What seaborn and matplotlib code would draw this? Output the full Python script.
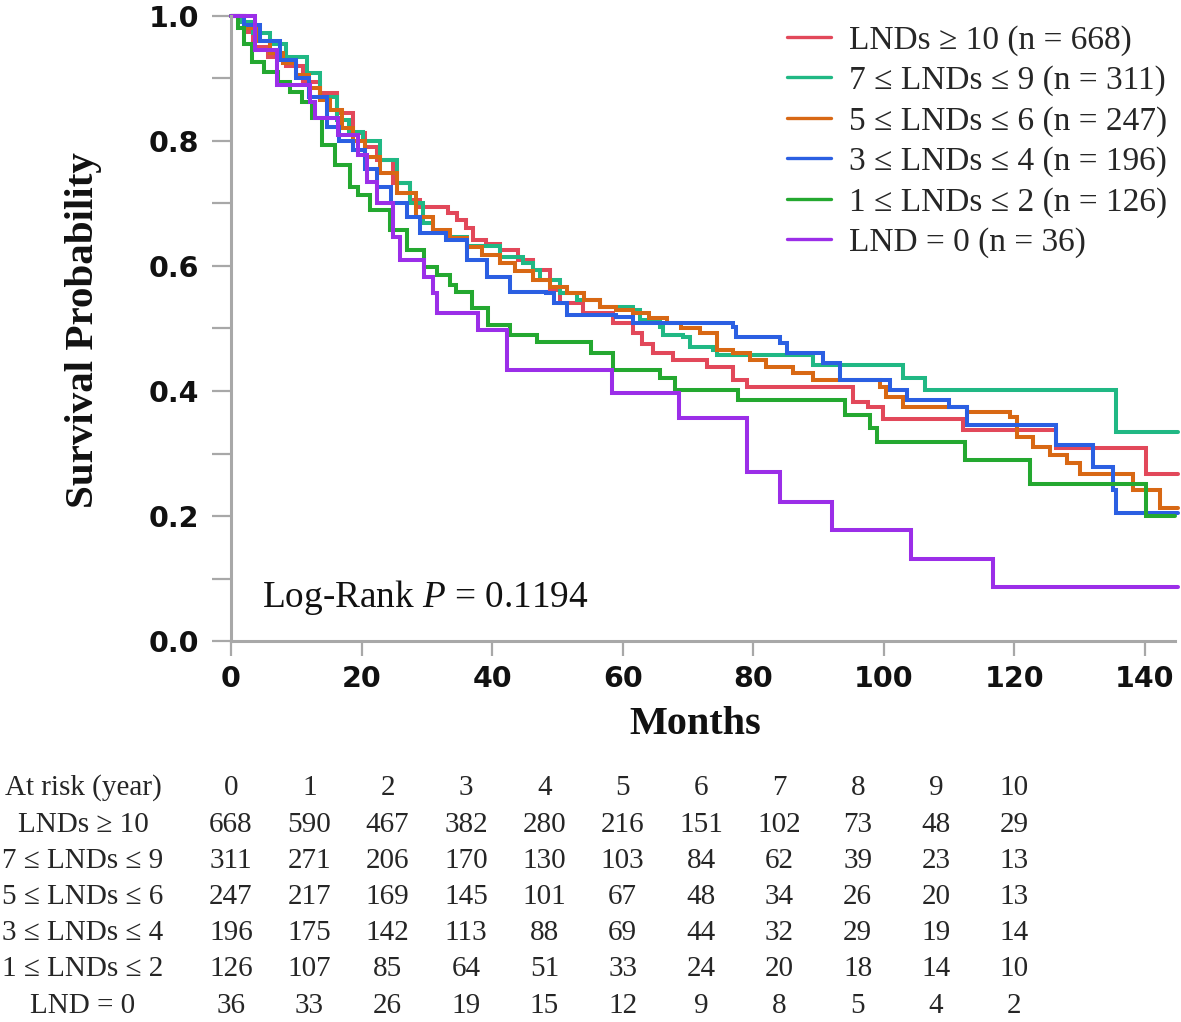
import numpy as np
import pandas as pd
import matplotlib
matplotlib.use("Agg")
import matplotlib.pyplot as plt
import seaborn as sns
from matplotlib import transforms
from matplotlib.lines import Line2D

# ---------------- data ----------------
group_labels = ["LNDs \u2265 10 (n = 668)", "7 \u2264 LNDs \u2264 9 (n = 311)",
                "5 \u2264 LNDs \u2264 6 (n = 247)", "3 \u2264 LNDs \u2264 4 (n = 196)",
                "1 \u2264 LNDs \u2264 2 (n = 126)", "LND = 0 (n = 36)"]
group_colors = ["#e2485a", "#20b884", "#d86814", "#2b5fe2", "#24a830", "#9b2ee8"]

red_t = [0, 2, 3.4, 5.7, 8.5, 11, 13.6, 16.2, 18.7, 20.5, 22.3, 24.8, 27.4, 28.9, 33.2, 34.6, 36, 37.1, 39, 41.2,
         44, 46.3, 48.9, 50.4, 53.9, 58.5, 61.6, 63, 64.6, 67.7, 72.9, 76.9, 79, 95.3, 97.6, 99.9, 112.2, 126.4, 140.2, 145]
red_s = [1, .975, .95, .935, .92, .895, .876, .845, .813, .79, .77, .733, .706, .695, .685, .674, .66, .642, .635, .626,
         .61, .594, .562, .541, .524, .508, .492, .475, .46, .45, .439, .418, .407, .383, .374, .355, .338, .309, .268, .268]

teal_t = [0, 1.5, 3.4, 6, 8.5, 11.6, 13.6, 16.2, 18, 20.2, 22.8, 25.4, 27.4, 29.4, 31, 33, 36.1, 41.2, 44.7, 46.3,
          47.3, 50.4, 53, 56.5, 61.6, 62.6, 65.7, 66.2, 69.3, 70.3, 73.8, 74.4, 89.2, 102.9, 106.3, 135.6, 145]
teal_s = [1, .99, .973, .955, .935, .909, .871, .834, .815, .80, .77, .733, .70, .668, .655, .647, .632, .614, .605, .594,
          .578, .557, .546, .535, .53, .514, .503, .49, .486, .471, .466, .458, .442, .42, .402, .335, .335]

orange_t = [0, 2, 4, 6, 8, 10, 12, 13.6, 15.2, 17, 18.7, 20.5, 22.8, 25.4, 28.4, 31, 33.5, 36.1, 38.5, 41.2,
            43.5, 46.3, 48.8, 51.4, 54, 56.5, 59, 61.6, 64, 66.8, 69, 71.8, 74.4, 76.9, 79.5, 82, 86.1, 89.2, 99.4, 100.4,
            102.9, 112.7, 119.3, 120.4, 122.9, 125.4, 128, 130, 138.2, 142.3, 145]
orange_s = [1, .98, .96, .94, .925, .905, .885, .865, .85, .82, .80, .775, .749, .717, .679, .658, .645, .631, .618, .605,
            .592, .578, .567, .557, .546, .535, .53, .524, .516, .508, .50, .492, .466, .46, .45, .439, .428, .418, .407, .391,
            .375, .367, .359, .327, .311, .298, .285, .268, .242, .213, .213]

blue_t = [0, 2, 4.4, 7.5, 10, 12, 14.7, 16.5, 18.7, 20.5, 22.3, 24.5, 26.9, 28.9, 33, 36.1, 39.2, 42.7, 48.3, 49.5,
          51.4, 59, 61.6, 76.9, 77.4, 84.1, 85.1, 90.7, 93.3, 100.9, 103.5, 110, 112.7, 126.4, 132, 135.1, 135.6, 145]
blue_s = [1, .985, .96, .93, .90, .87, .823, .80, .786, .755, .727, .70, .679, .652, .642, .61, .583, .559, .557, .54,
          .522, .519, .508, .503, .487, .477, .46, .444, .418, .402, .386, .375, .345, .314, .279, .242, .205, .205]

green_t = [0, 1, 2, 3.2, 5, 7.2, 9, 10.8, 12.4, 13.9, 15.9, 18.2, 19.4, 21.3, 24.3, 26.9, 29.5, 31.5, 33.5, 34.5,
           36.9, 39.4, 42.7, 46.8, 55.2, 58.5, 65.7, 68, 77.6, 94, 97.9, 98.9, 112.4, 122.4, 140.2, 144.6]
green_s = [1, .98, .955, .927, .91, .895, .878, .863, .837, .794, .762, .727, .714, .69, .658, .626, .599, .585, .57, .559,
           .532, .506, .49, .479, .46, .434, .42, .402, .386, .362, .34, .319, .29, .251, .2, .2]

purple_t = [0, 3.7, 7.0, 12.1, 12.9, 16.4, 19.5, 20.8, 22.3, 24.8, 25.9, 29.5, 31.0, 31.5, 37.8, 42.3, 58.4, 68.6, 79.0, 84.1,
            92.0, 104.2, 116.7, 145]
purple_s = [1, .945, .89, .863, .836, .81, .778, .735, .70, .647, .61, .582, .556, .524, .497, .434, .397, .357, .27, .223,
            .178, .132, .087, .087]

x_ticks = [0, 20, 40, 60, 80, 100, 120, 140]
y_ticks = [0.0, 0.1, 0.2, 0.3, 0.4, 0.5, 0.6, 0.7, 0.8, 0.9, 1.0]
y_ticklabels = ["0.0", "", "0.2", "", "0.4", "", "0.6", "", "0.8", "", "1.0"]

risk_years = [0, 1, 2, 3, 4, 5, 6, 7, 8, 9, 10]
risk_row_labels = ["LNDs \u2265 10", "7 \u2264 LNDs \u2264 9", "5 \u2264 LNDs \u2264 6",
                   "3 \u2264 LNDs \u2264 4", "1 \u2264 LNDs \u2264 2", "LND = 0"]
risk_red = [668, 590, 467, 382, 280, 216, 151, 102, 73, 48, 29]
risk_teal = [311, 271, 206, 170, 130, 103, 84, 62, 39, 23, 13]
risk_orange = [247, 217, 169, 145, 101, 67, 48, 34, 26, 20, 13]
risk_blue = [196, 175, 142, 113, 88, 69, 44, 32, 29, 19, 14]
risk_green = [126, 107, 85, 64, 51, 33, 24, 20, 18, 14, 10]
risk_purple = [36, 33, 26, 19, 15, 12, 9, 8, 5, 4, 2]

# ---------------- figure ----------------
sns.set_style("ticks")
SERIF = ["Liberation Serif", "DejaVu Serif"]
plt.rcParams["font.family"] = SERIF
plt.rcParams["mathtext.fontset"] = "custom"
plt.rcParams["mathtext.rm"] = "Liberation Serif"
plt.rcParams["mathtext.it"] = "Liberation Serif:italic"

W, H = 1181, 1022
fig = plt.figure(figsize=(W / 100, H / 100), dpi=100)
fig.patch.set_facecolor("white")
ax = fig.add_axes([231 / W, 1 - 641 / H, (1175 - 231) / W, (641 - 16) / H])

series_t = [red_t, teal_t, orange_t, blue_t, green_t, purple_t]
series_s = [red_s, teal_s, orange_s, blue_s, green_s, purple_s]
frames = []
for lab, tt, ss in zip(group_labels, series_t, series_s):
    frames.append(pd.DataFrame({"Months": tt, "Survival": ss, "Group": lab}))
df = pd.concat(frames, ignore_index=True)

sns.lineplot(data=df, x="Months", y="Survival", hue="Group", hue_order=group_labels,
             palette=group_colors, estimator=None, drawstyle="steps-post",
             linewidth=2.9, ax=ax, legend=False)
for ln in ax.lines:
    ln.set_clip_on(False)
    ln.set_solid_joinstyle("miter")

ax.set_xlim(0, 144.6)
ax.set_ylim(0, 1)
ax.set_xlabel("")
ax.set_ylabel("")
sns.despine(ax=ax)
for sp in ["left", "bottom"]:
    ax.spines[sp].set_color("#a8a8a8")
    ax.spines[sp].set_linewidth(2.2)

ax.set_xticks(x_ticks)
ax.set_xticklabels([str(v) for v in x_ticks])
ax.set_yticks(y_ticks)
ax.set_yticklabels(y_ticklabels)
ax.tick_params(axis="y", length=14, width=1.6, color="#a8a8a8", pad=9)
ax.tick_params(axis="x", length=11, width=1.6, color="#a8a8a8", pad=6)
for lab in ax.get_xticklabels() + ax.get_yticklabels():
    lab.set_fontfamily("DejaVu Sans")
    lab.set_fontweight("bold")
    lab.set_fontsize(20.5)
    lab.set_color("#111111")

# legend
handles = [Line2D([0], [0], color=c, lw=2.4) for c in group_colors]
leg = fig.legend(handles, group_labels, loc="upper left",
                 bbox_to_anchor=(787 / W, 1 - 25 / H), frameon=False,
                 prop={"family": SERIF, "size": 24}, handlelength=1.32,
                 handletextpad=0.54, labelspacing=0.29, borderpad=0, borderaxespad=0)

# log-rank text
ax.text(4.8, 0.07, "Log-Rank $P$ = 0.1194", fontsize=26.8, family=SERIF,
        ha="left", va="center", color="#111111")

# axis titles
fig.text(84 / W, 1 - 330 / H, "Survival Probability", rotation=90, ha="center", va="center",
         fontsize=29.5, fontweight="bold", family=SERIF, color="#111111")
fig.text(695 / W, 1 - 724 / H, "Months", ha="center", va="center",
         fontsize=29, fontweight="bold", family=SERIF, color="#111111")

# risk table
trans = transforms.blended_transform_factory(ax.transData, fig.transFigure)
row_y = [788, 825, 861, 897, 933, 969, 1006]
fig.text(83 / W, 1 - row_y[0] / H, "At risk (year)", ha="center", va="center", fontsize=21, family=SERIF)
for yr in risk_years:
    ax.text(12 * yr, 1 - row_y[0] / H, str(yr), transform=trans, ha="center", va="center",
            fontsize=21, family=SERIF, clip_on=False)
risk_rows = [risk_red, risk_teal, risk_orange, risk_blue, risk_green, risk_purple]
for i, (lab, vals) in enumerate(zip(risk_row_labels, risk_rows)):
    yy = 1 - row_y[i + 1] / H
    fig.text(83 / W, yy, lab, ha="center", va="center", fontsize=21, family=SERIF)
    for yr, v in zip(risk_years, vals):
        ax.text(12 * yr, yy, str(v), transform=trans, ha="center", va="center",
                fontsize=21, family=SERIF, clip_on=False)

fig.savefig("out.png", dpi=100, facecolor="white")
